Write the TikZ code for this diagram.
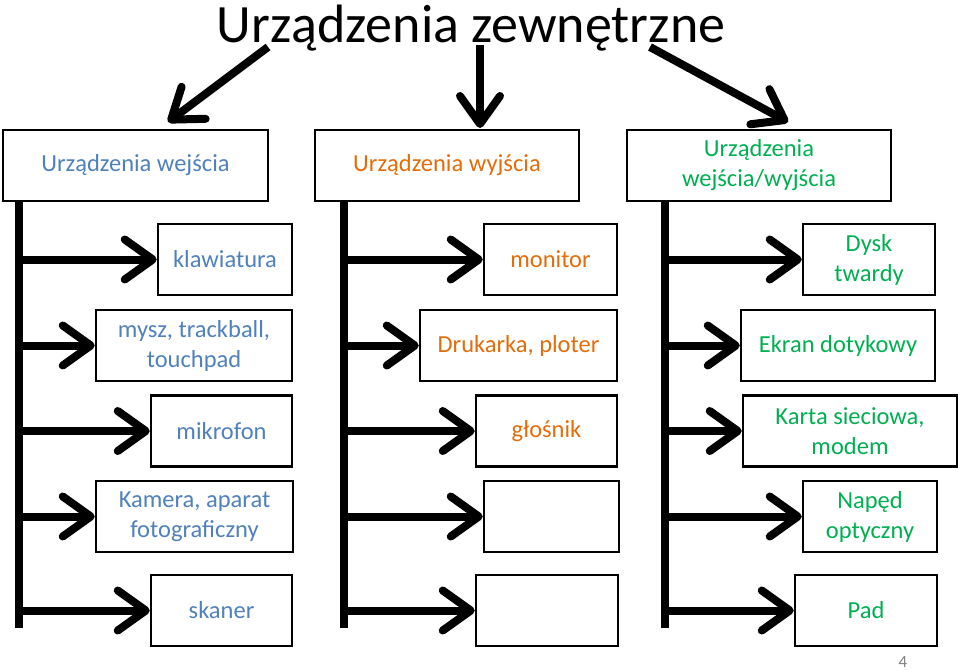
\documentclass[tikz,border=0pt]{standalone}
\usepackage{fontspec}
\setmainfont{Carlito}
\usetikzlibrary{arrows.meta}
\definecolor{inblue}{HTML}{4F81BD}
\definecolor{outorange}{HTML}{E46C0A}
\definecolor{iogreen}{HTML}{00B050}
\tikzset{
  box/.style={draw, line width=2.5pt, align=center, inner sep=0pt, font=\fontsize{24.5}{30}\selectfont},
  arr/.style={line width=8pt, -{Straight Barb[length=28pt,width=40pt,round]}},
  bus/.style={line width=8pt},
}
\begin{document}
\begin{tikzpicture}[x=1pt,y=-1pt]
  \useasboundingbox (0,0) rectangle (960,670);
  \node (title) at (471,28) {\fontsize{54}{60}\selectfont Urządzenia zewnętrzne};

  % headers
  \node[box, minimum width=265pt, minimum height=71pt, text=inblue] (in) at (135.5,165.5) {Urządzenia wejścia};
  \node[box, minimum width=264pt, minimum height=71pt, text=outorange] (out) at (447,165.5) {Urządzenia wyjścia};
  \node[box, minimum width=264pt, minimum height=71pt, text=iogreen] (io) at (759,165.5) {Urządzenia\\wejścia/wyjścia};

  \coordinate (t1) at (268,47);
  \coordinate (h1) at (168,122);
  \coordinate (t2) at (480,45);
  \coordinate (h2) at (480,128);
  \coordinate (t3) at (650,47);
  \coordinate (h3) at (788,122);
  \draw[arr] (t1) -- (h1);
  \draw[arr] (t2) -- (h2);
  \draw[arr] (t3) -- (h3);

  % input devices
  \node[box, minimum width=134pt, minimum height=71pt, text=inblue] (klaw) at (225,259.5) {klawiatura};
  \node[box, minimum width=196pt, minimum height=71pt, text=inblue] (mysz) at (194,345.5) {mysz, trackball,\\touchpad};
  \node[box, minimum width=141pt, minimum height=71pt, text=inblue] (mikro) at (221.5,431) {mikrofon};
  \node[box, minimum width=197pt, minimum height=71pt, text=inblue] (kam) at (194.5,516.5) {Kamera, aparat\\fotograficzny};
  \node[box, minimum width=141pt, minimum height=71pt, text=inblue] (skan) at (221.5,610.5) {skaner};
  \coordinate (b1) at (19,628);
  \draw[bus] (b1 |- in.south) -- (b1);
  \draw[arr] (b1 |- klaw.west) -- (klaw.west);
  \draw[arr] (b1 |- mysz.west) -- (mysz.west);
  \draw[arr] (b1 |- mikro.west) -- (mikro.west);
  \draw[arr] (b1 |- kam.west) -- (kam.west);
  \draw[arr] (b1 |- skan.west) -- (skan.west);

  % output devices
  \node[box, minimum width=133pt, minimum height=71pt, text=outorange] (mon) at (550.5,259.5) {monitor};
  \node[box, minimum width=197pt, minimum height=71pt, text=outorange] (druk) at (518.5,345.5) {Drukarka, ploter};
  \node[box, minimum width=141pt, minimum height=71pt, text=outorange] (glos) at (546.5,431) {głośnik};
  \node[box, minimum width=135pt, minimum height=71pt] (pus1) at (551.5,516.5) {};
  \node[box, minimum width=142pt, minimum height=71pt] (pus2) at (547,610.5) {};
  \coordinate (b2) at (344,628);
  \draw[bus] (b2 |- out.south) -- (b2);
  \draw[arr] (b2 |- mon.west) -- (mon.west);
  \draw[arr] (b2 |- druk.west) -- (druk.west);
  \draw[arr] (b2 |- glos.west) -- (glos.west);
  \draw[arr] (b2 |- pus1.west) -- (pus1.west);
  \draw[arr] (b2 |- pus2.west) -- (pus2.west);

  % input/output devices
  \node[box, minimum width=132pt, minimum height=71pt, text=iogreen] (dysk) at (869,259.5) {Dysk\\twardy};
  \node[box, minimum width=194pt, minimum height=71pt, text=iogreen] (ekran) at (838,345.5) {Ekran dotykowy};
  \node[box, minimum width=214pt, minimum height=71pt, text=iogreen] (karta) at (850,431) {Karta sieciowa,\\modem};
  \node[box, minimum width=134pt, minimum height=71pt, text=iogreen] (naped) at (870,516.5) {Napęd\\optyczny};
  \node[box, minimum width=142pt, minimum height=71pt, text=iogreen] (pad) at (866,610.5) {Pad};
  \coordinate (b3) at (665,628);
  \draw[bus] (b3 |- io.south) -- (b3);
  \draw[arr] (b3 |- dysk.west) -- (dysk.west);
  \draw[arr] (b3 |- ekran.west) -- (ekran.west);
  \draw[arr] (b3 |- karta.west) -- (karta.west);
  \draw[arr] (b3 |- naped.west) -- (naped.west);
  \draw[arr] (b3 |- pad.west) -- (pad.west);

  \node[text=gray, font=\fontsize{17}{20}\selectfont] (pg) at (903,662) {4};
\end{tikzpicture}
\end{document}
